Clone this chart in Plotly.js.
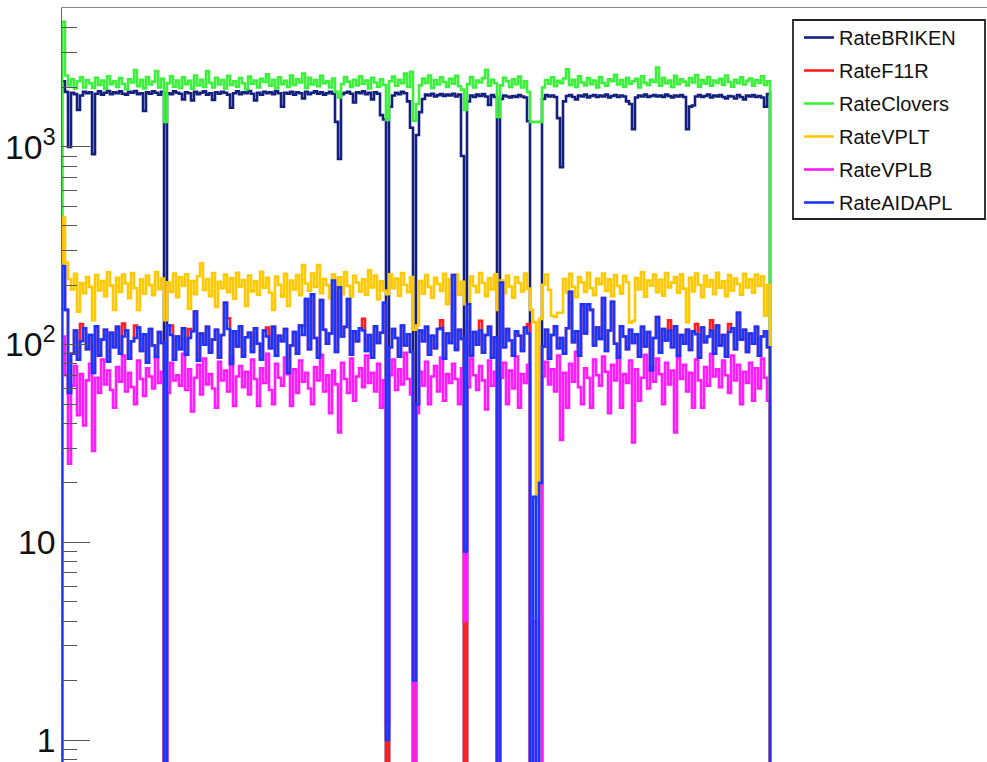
<!DOCTYPE html>
<html><head><meta charset="utf-8">
<script src="https://cdn.plot.ly/plotly-3.0.1.min.js"></script>
<style>html,body{margin:0;padding:0;overflow:hidden;background:#fff}#chart{width:987px;height:800px}</style>
</head><body><div id="chart"></div>
<script>
// Rates per time bin (bin 0 and the last bin are empty).
const seriesNames = ['RateBRIKEN','RateF11R','RateClovers','RateVPLT','RateVPLB','RateAIDAPL'];

const rateBRIKEN = [
0,2150,1900,1000,1880,1850,1540,1820,1900,1870,
1890,920,1860,1910,1840,1880,1920,1850,1890,1870,
1910,1860,1840,1900,1880,1920,1850,1870,1520,1890,
1860,1910,1880,1840,1900,0,1870,1850,1910,1880,
1860,1740,1890,1870,1720,1900,1850,1880,1910,1840,
1870,1730,1890,1860,1900,1880,1840,1580,1870,1910,
1850,1890,1870,1920,1860,1720,1880,1840,1900,1870,
1890,1850,1910,1870,1600,1880,1860,1900,1840,1890,
1870,1760,1900,1850,1880,1910,1860,1890,1840,1870,
1900,1860,1340,870,1850,1880,1900,1860,1680,1890,
1870,1910,1850,1880,1740,1890,1860,1450,1380,0,
1600,1820,1880,1850,1900,1870,1700,1250,0,1150,
1500,1750,1840,1820,1860,1800,1830,1850,1810,1840,
1820,1860,1800,1840,900,0,1700,1820,1790,1840,
1810,1850,1800,1630,1830,1790,0,1750,1820,1800,
1780,1810,1790,1830,1800,1780,1350,0,0,0,
0,1750,1830,1800,1820,1790,1400,790,1700,1810,
1830,1790,1740,1820,1800,1840,1780,1810,1830,1790,
1820,1800,1840,1780,1810,1830,1790,1820,1800,1700,
1650,1230,1780,1820,1800,1840,1790,1810,1830,1800,
1820,1790,1840,1810,1780,1820,1800,1830,1790,1230,
1600,1620,1800,1830,1790,1810,1840,1780,1820,1800,
1830,1790,1760,1810,1800,1760,1830,1790,1740,1820,
1800,1830,1790,1810,1780,1600,1850,0];

const rateF11R = [
0,250,150,57,90,118,84,127,121,95,
112,72,124,88,106,119,82,115,97,123,
90,128,118,85,104,125,122,93,113,81,
120,99,87,116,102,0,125,125,84,110,
95,121,89,120,117,147,83,114,100,123,
91,106,119,86,112,163,136,80,117,98,
124,87,109,115,92,121,101,84,118,122,
96,123,88,111,104,120,72,99,116,90,
125,125,170,95,180,108,86,168,119,101,
114,211,92,195,110,123,170,89,117,104,
121,135,93,112,86,124,102,115,163,0,
97,120,108,87,125,99,113,92,0,50,
118,104,123,89,111,96,120,133,85,114,
102,225,94,119,107,0,160,88,116,100,
132,91,112,123,86,109,0,206,97,120,
105,88,117,111,93,122,127,0,0,0,
0,98,119,85,112,124,96,108,90,121,
185,103,117,88,160,114,160,150,99,122,
107,172,93,118,165,101,86,124,110,95,
119,102,113,87,123,98,116,74,108,138,
91,120,105,133,97,124,88,112,101,119,
94,117,127,86,122,103,110,133,90,125,
99,112,87,127,121,95,145,106,119,92,
114,101,123,88,110,117,97,0];

const rateClovers = [
0,4300,2300,2050,2200,1980,2150,2250,2000,2180,
2100,1990,2240,2060,2170,1970,2280,2080,2150,2010,
2230,2090,1960,2200,2120,2450,2030,2190,1980,2260,
2070,2140,2420,2000,2210,1340,2100,2280,2020,2170,
1990,2250,2080,2160,1970,2300,2050,2190,2010,2420,
2110,2000,2240,2070,2180,1980,2290,2060,2150,2020,
2230,2100,1960,2270,2090,2170,2000,2210,2130,2330,
2040,2190,1980,2250,2080,2160,2010,2300,2060,2200,
2120,2350,1990,2240,2070,2180,2030,2290,2100,2150,
2000,2220,1900,1780,2080,2260,2140,2010,2190,2050,
2280,2090,2170,1980,2240,2120,2020,2200,2060,1370,
2150,2270,2040,2190,2100,2350,2010,2400,1360,1650,
2050,2220,2110,2300,1990,2180,2070,2250,2130,2010,
2210,2090,2290,2030,1950,1540,2080,2260,2000,2170,
2120,2230,2460,2040,2190,2100,1420,2050,2240,2150,
2010,2200,2080,2270,2000,2150,1900,1340,1340,1340,
1340,2000,2180,2090,2250,2030,2160,2100,2220,2470,
2060,2190,2010,2280,2120,2050,2230,2080,2170,2000,
2260,2110,2040,2200,2150,2320,2070,2180,2020,2240,
2090,2150,2210,2000,2280,2110,2060,2190,2130,2520,
2040,2240,2100,2170,2010,2290,2080,2200,2140,2050,
2230,2120,2310,2020,2180,2090,2260,2040,2170,2110,
2210,2060,2300,2130,2020,2190,2100,2250,2070,2160,
2220,2040,2180,2110,2280,2060,2150,0];

const rateVPLT = [
0,440,260,215,190,228,147,205,182,220,
196,133,225,188,210,176,232,199,150,218,
185,226,204,172,230,193,150,214,181,224,
200,178,233,191,216,133,207,185,229,174,
219,198,227,152,210,180,222,258,189,215,
176,230,155,208,193,226,184,217,171,231,
197,212,157,224,186,209,179,234,194,218,
183,150,221,201,175,228,157,211,190,225,
178,253,204,187,229,196,253,182,215,200,
172,226,191,219,180,232,198,175,223,206,
186,214,179,238,195,224,170,209,188,180,
227,193,216,177,230,201,184,220,119,125,
210,181,225,196,173,218,203,187,228,160,
215,192,226,179,208,160,135,221,198,184,
230,205,176,217,190,227,150,211,182,224,
197,173,219,205,186,229,192,150,130,16,
135,201,226,189,140,138,145,145,215,183,
228,196,174,220,207,185,231,193,178,216,
202,229,187,214,176,225,198,181,223,207,
129,132,217,190,232,175,211,199,226,184,
213,177,230,195,206,220,183,227,192,130,
218,186,229,201,174,223,197,212,180,231,
194,209,176,225,188,216,203,179,228,195,
214,183,226,198,221,140,200,0];

const rateVPLB = [
0,110,70,25,62,78,44,71,39,66,
80,29,68,57,84,63,74,59,48,77,
65,88,58,72,61,50,83,67,55,76,
69,60,86,64,73,0,57,81,66,70,
62,90,59,75,46,68,79,56,85,63,
71,60,48,82,66,74,58,87,49,69,
78,61,73,56,84,67,49,76,64,90,
59,50,80,68,62,86,71,49,75,57,
83,65,72,60,50,77,66,89,58,70,
45,74,63,36,81,67,57,85,52,69,
76,61,88,64,72,58,80,48,66,1.2,
70,84,59,75,63,91,67,56,0,45,
73,62,82,50,69,78,58,86,52,71,
64,80,67,50,76,4,61,85,70,59,
78,66,47,83,62,73,0,68,81,50,
74,60,87,48,71,64,79,0,4,0,
0,69,82,63,75,58,88,33,72,48,
80,65,92,61,50,76,68,48,84,70,
62,87,73,45,79,66,91,48,71,64,
83,32,75,52,68,89,60,77,65,85,
71,50,81,63,74,36,86,67,79,58,
72,48,84,66,48,77,62,90,69,75,
61,83,70,57,88,66,79,50,73,64,
81,52,76,60,85,68,52,0];

const rateAIDAPL = [
0,250,150,57,90,118,84,104,121,95,
112,72,124,88,106,119,82,115,97,123,
90,110,118,85,104,108,122,93,113,81,
120,99,87,116,102,0,125,112,84,110,
95,121,89,108,117,147,83,114,100,123,
91,106,119,86,112,163,120,80,117,98,
124,87,109,115,92,121,101,84,118,110,
96,123,88,111,104,120,72,99,116,90,
125,112,170,95,180,108,86,168,119,101,
114,211,92,195,110,123,170,89,117,104,
121,118,93,112,86,124,102,115,163,1,
97,120,108,87,125,99,113,92,2,50,
118,104,123,89,111,96,120,121,85,114,
102,225,94,119,107,9,160,88,116,100,
118,91,112,123,86,109,0,206,97,120,
105,88,117,111,93,122,114,0,17,0,
20,98,119,85,112,124,96,108,90,121,
185,103,117,88,160,114,160,150,99,122,
107,172,93,118,165,101,86,124,110,95,
119,102,113,87,123,98,116,74,108,138,
91,120,105,118,97,124,88,112,101,119,
94,117,113,86,122,103,110,118,90,125,
99,112,87,116,121,95,145,106,119,92,
114,101,123,88,110,117,97,0];

const seriesValues = [rateBRIKEN, rateF11R, rateClovers, rateVPLT, rateVPLB, rateAIDAPL];
const seriesColors = ['#14207e', '#ff1d1d', '#3cf03c', '#ffc800', '#ff1aff', '#1a35ff'];

const EMPTY_BIN = 0.1; // empty bins fall below the visible log range, as in the original
const traces = seriesValues.map((vals, k) => ({
  type: 'scatter', mode: 'lines', name: seriesNames[k],
  legendgroup: 'g' + k,
  x: vals.map((_, i) => i),
  y: vals.map(v => v > 0 ? v : EMPTY_BIN),
  line: {shape: 'hv', color: seriesColors[k], width: 2.6, simplify: false},
  hoverinfo: 'skip'
}));

const W = 987, H = 800, mL = 62, mT = 8, mB = 20;
const plotW = W - mL, plotH = H - mT - mB;
const nBinsShown = plotW / 3;

const layout = {
  width: W, height: H,
  margin: {l: mL, r: 0, t: mT, b: mB, pad: 0},
  paper_bgcolor: '#ffffff', plot_bgcolor: '#ffffff',
  font: {family: 'Liberation Sans, Arial, sans-serif', color: '#111'},
  showlegend: true,
  legend: {
    x: (799 - mL) / plotW, y: 1 - (18 - mT) / plotH, xanchor: 'left', yanchor: 'top',
    bgcolor: 'rgba(255,255,255,0)', borderwidth: 0,
    font: {size: 20, family: 'Liberation Sans, Arial, sans-serif', color: '#111'},
    tracegroupgap: 4
  },
  shapes: [{
    type: 'rect', xref: 'paper', yref: 'paper',
    x0: (793 - mL) / plotW, x1: (985 - mL) / plotW,
    y0: 1 - (219 - mT) / plotH, y1: 1 - (20 - mT) / plotH,
    line: {color: '#222', width: 1.8}, fillcolor: 'rgba(255,255,255,0)', layer: 'below'
  }],
  xaxis: {
    range: [1, 1 + nBinsShown], showgrid: false, zeroline: false,
    showline: true, mirror: true, linecolor: '#8a8a8a', linewidth: 1.5,
    ticks: '', showticklabels: false, fixedrange: true
  },
  yaxis: {
    type: 'log', range: [-0.202, 3.703],
    tickmode: 'linear', tick0: 0, dtick: 1, exponentformat: 'power',
    showgrid: false, zeroline: false,
    showline: true, linecolor: '#666', linewidth: 1,
    ticks: 'inside', ticklen: 28, tickcolor: '#555', tickwidth: 1,
    tickfont: {size: 27, family: 'Liberation Sans, Arial, sans-serif', color: '#111'},
    minor: {ticks: 'inside', ticklen: 15, tickcolor: '#555', tickwidth: 1, dtick: 'D1', showgrid: false},
    fixedrange: true
  }
};

Plotly.newPlot('chart', traces, layout, {displayModeBar: false, staticPlot: true});
</script>
</body></html>
